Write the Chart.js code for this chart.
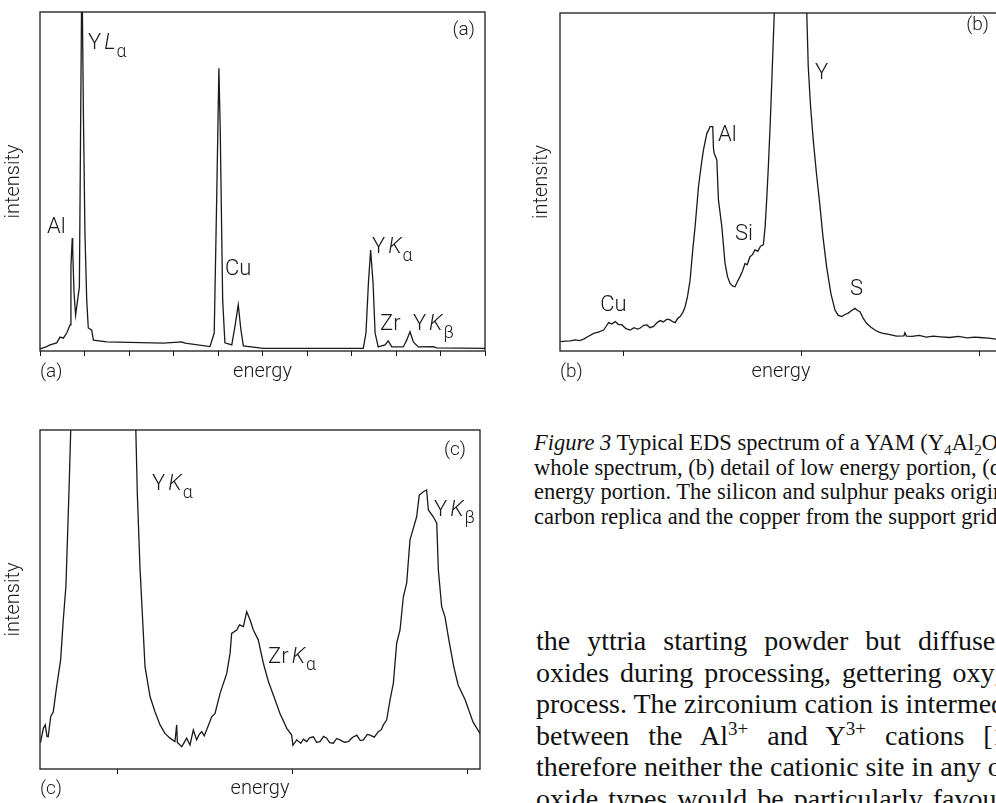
<!DOCTYPE html>
<html>
<head>
<meta charset="utf-8">
<script src="https://cdn.jsdelivr.net/npm/chart.js@4.4.1/dist/chart.umd.min.js"></script>
<style>
html, body { margin: 0; padding: 0; background: #fff; }
body { width: 996px; height: 803px; overflow: hidden; position: relative; }
.panel { position: absolute; }
#wrapA { left: 0; top: 0; width: 490px; height: 392px; }
#wrapB { left: 520px; top: 0; width: 490px; height: 392px; }
#wrapC { left: 0; top: 418px; width: 486px; height: 385px; }
.caption, .body-text {
    position: absolute; white-space: nowrap; color: #111;
    font-family: "Liberation Serif", "Times New Roman", serif;
}
.caption { left: 534px; top: 431px; font-size: 22.5px; line-height: 24.5px; }
.body-text { left: 536px; top: 625px; font-size: 28px; line-height: 31.5px; }
sub, sup { font-size: 0.68em; line-height: 0; position: relative; vertical-align: baseline; }
sub { top: 0.3em; }
sup { top: -0.5em; }
</style>
</head>
<body>
<div class="panel" id="wrapA"><canvas id="chartA"></canvas></div>
<div class="panel" id="wrapB"><canvas id="chartB"></canvas></div>
<div class="panel" id="wrapC"><canvas id="chartC"></canvas></div>

<div class="caption">
<div><i>Figure 3</i> Typical EDS spectrum of a YAM (Y<sub>4</sub>Al<sub>2</sub>O<sub>9</sub>) ceramic: (a)</div>
<div>whole spectrum, (b) detail of low energy portion, (c) detail of high</div>
<div>energy portion. The silicon and sulphur peaks originate from the</div>
<div>carbon replica and the copper from the support grid.</div>
</div>

<div class="body-text">
<div style="word-spacing:10px">the yttria starting powder but diffused into the</div>
<div style="word-spacing:4px">oxides during processing, gettering oxygen in the</div>
<div>process. The zirconium cation is intermediate in size</div>
<div style="word-spacing:12px">between the Al<sup>3+</sup> and Y<sup>3+</sup> cations [17] and</div>
<div>therefore neither the cationic site in any of the</div>
<div style="word-spacing:3px">oxide types would be particularly favoured.</div>
</div>

<script>
// (a) whole spectrum, energy in keV
const aEnergy = [0.00, 0.30, 0.45, 0.75, 0.90, 1.05, 1.20, 1.35, 1.39, 1.45, 1.47, 1.53, 1.60, 1.69, 1.77, 1.83, 1.87, 1.90, 1.95, 2.02, 2.10, 2.17, 2.32, 2.40, 3.00, 5.54, 6.37, 6.52, 7.64, 7.83, 7.94, 8.04, 8.10, 8.21, 8.31, 8.62, 8.76, 8.91, 9.03, 9.14, 10.04, 14.53, 14.65, 14.76, 14.86, 14.97, 15.06, 15.20, 15.51, 15.65, 15.81, 16.33, 16.48, 16.63, 16.78, 17.00, 17.68, 17.83, 20.00];
const aCounts = [0.6, 1.3, 1.8, 2.4, 4.1, 3.8, 5.3, 7.7, 24.9, 33.3, 29.8, 17.1, 10.6, 15.0, 18.9, 70.2, 104, 104, 70.5, 34.8, 15.0, 6.8, 6.2, 3.2, 2.7, 2.3, 2.7, 2.3, 1.3, 5.3, 44.5, 83.4, 65.2, 15.0, 2.4, 1.8, 7.2, 13.6, 6.2, 1.5, 0.8, 0.8, 5.3, 20.0, 29.8, 20.0, 5.3, 1.2, 1.8, 3.0, 1.2, 1.2, 3.2, 5.7, 2.7, 1.2, 1.3, 0.9, 0.8];
const aTicks = [0, 2, 4, 6, 8, 10, 12, 14, 16, 18, 20];

// (b) low energy portion
const bEnergy = [0.647, 0.675, 0.703, 0.730, 0.755, 0.778, 0.800, 0.834, 0.860, 0.890, 0.905, 0.918, 0.935, 0.955, 0.972, 0.993, 1.015, 1.039, 1.060, 1.080, 1.095, 1.115, 1.133, 1.150, 1.170, 1.190, 1.207, 1.225, 1.245, 1.263, 1.280, 1.291, 1.305, 1.319, 1.335, 1.347, 1.360, 1.375, 1.390, 1.403, 1.422, 1.440, 1.450, 1.469, 1.480, 1.487, 1.502, 1.506, 1.510, 1.518, 1.525, 1.534, 1.553, 1.571, 1.585, 1.599, 1.615, 1.627, 1.640, 1.655, 1.668, 1.683, 1.695, 1.711, 1.725, 1.739, 1.755, 1.770, 1.786, 1.796, 1.805, 1.814, 1.825, 1.833, 1.848, 1.940, 2.029, 2.038, 2.050, 2.066, 2.085, 2.104, 2.120, 2.141, 2.165, 2.188, 2.205, 2.225, 2.245, 2.262, 2.280, 2.300, 2.315, 2.328, 2.345, 2.365, 2.390, 2.412, 2.435, 2.458, 2.490, 2.533, 2.575, 2.580, 2.589, 2.620, 2.660, 2.700, 2.738, 2.780, 2.832, 2.880, 2.930, 2.970, 3.000, 3.050, 3.090, 3.125];
const bCounts = [2.8, 2.9, 3.0, 3.3, 3.1, 3.5, 4.2, 5.2, 5.6, 6.2, 7.4, 8.4, 8.0, 8.7, 7.9, 7.7, 6.6, 6.2, 6.9, 6.5, 6.8, 7.6, 7.7, 6.9, 7.3, 8.4, 9.0, 8.6, 9.4, 9.2, 8.6, 8.4, 9.6, 10.2, 11.5, 13.1, 16.0, 21.0, 30.0, 36.8, 48.6, 56.0, 59.5, 64.4, 65.5, 66.4, 66.4, 60.0, 58.5, 57.5, 56.5, 44.7, 36.8, 25.9, 22.0, 20.0, 19.2, 19.0, 20.5, 22.0, 23.5, 25.9, 25.5, 27.9, 28.5, 29.9, 29.5, 31.0, 31.4, 36.8, 45.0, 54.5, 68.0, 79.2, 101, 130, 101, 84.1, 73.0, 62.4, 52.0, 42.7, 34.0, 24.9, 17.0, 12.1, 10.6, 10.2, 10.8, 11.2, 11.9, 12.6, 12.0, 11.6, 9.8, 8.2, 7.0, 6.2, 5.6, 5.2, 4.9, 4.4, 4.5, 5.4, 4.4, 4.3, 4.6, 4.1, 4.4, 4.2, 4.0, 4.3, 3.9, 4.1, 4.0, 3.8, 3.5, 3.6];
const bTicks = [1, 2, 3];

// (c) high energy portion
const cEnergy = [14.560, 14.564, 14.579, 14.590, 14.600, 14.607, 14.621, 14.636, 14.655, 14.678, 14.693, 14.708, 14.718, 14.727, 14.741, 14.920, 15.103, 15.116, 15.131, 15.160, 15.189, 15.217, 15.246, 15.274, 15.303, 15.331, 15.341, 15.345, 15.350, 15.370, 15.398, 15.417, 15.436, 15.455, 15.470, 15.484, 15.498, 15.512, 15.541, 15.560, 15.589, 15.627, 15.646, 15.655, 15.684, 15.700, 15.722, 15.741, 15.760, 15.779, 15.807, 15.836, 15.865, 15.903, 15.931, 15.970, 15.998, 16.005, 16.027, 16.050, 16.065, 16.084, 16.100, 16.122, 16.140, 16.160, 16.180, 16.198, 16.215, 16.236, 16.255, 16.274, 16.300, 16.322, 16.345, 16.370, 16.390, 16.408, 16.430, 16.446, 16.470, 16.493, 16.510, 16.522, 16.541, 16.560, 16.579, 16.598, 16.617, 16.636, 16.655, 16.674, 16.693, 16.712, 16.727, 16.750, 16.769, 16.779, 16.807, 16.827, 16.836, 16.855, 16.874, 16.893, 16.903, 16.925, 16.949, 16.989, 17.034, 17.074];
const cCounts = [8.0, 8.1, 12.0, 13.0, 9.6, 9.5, 15.4, 16.9, 24.3, 32.2, 44.0, 53.9, 69.6, 84.3, 110, 200, 110, 81.3, 59.7, 30.2, 21.3, 16.9, 13.0, 10.5, 9.1, 8.1, 13.0, 7.8, 7.6, 6.6, 9.1, 7.1, 11.5, 8.6, 10.2, 11.0, 9.8, 11.5, 15.4, 16.4, 22.3, 28.2, 34.1, 40.0, 41.0, 42.5, 42.0, 46.4, 44.0, 41.0, 38.1, 31.2, 25.8, 20.4, 16.4, 12.0, 10.0, 7.0, 8.6, 7.6, 8.8, 8.1, 9.2, 9.5, 7.9, 8.1, 9.6, 9.1, 7.8, 7.6, 9.0, 8.6, 7.9, 8.1, 9.3, 10.0, 8.4, 8.6, 10.2, 10.0, 9.4, 11.0, 11.6, 13.0, 14.5, 20.4, 25.3, 37.1, 41.0, 50.8, 54.8, 67.6, 71.0, 74.4, 80.8, 81.8, 82.3, 76.4, 74.4, 72.5, 58.7, 47.9, 44.9, 39.0, 36.1, 30.0, 24.8, 20.4, 13.9, 10.5];
const cTicks = [15, 16, 17];

// peak names
const aPeaks = ['YLα', 'Al', 'Cu', 'YKα', 'Zr', 'YKβ'];
const bPeaks = ['Cu', 'Al', 'Si', 'Y', 'S'];
const cPeaks = ['YKα', 'ZrKα', 'YKβ'];

const ink = '#1a1a1a';
const plotFont = 'Roboto';
Chart.defaults.font.family = plotFont;
Chart.defaults.color = ink;

// K/L italic, greek letters as subscript
function drawTag(ctx, x, y, name, size) {
    let cx = x;
    for (const ch of name) {
        const sub = /[α-ω]/.test(ch);
        const ital = ch === 'K' || ch === 'L';
        const s = sub ? size * 0.8 : size;
        ctx.font = (ital ? 'italic ' : '') + '300 ' + s + 'px ' + plotFont;
        if (ital) cx += 3;
        ctx.fillText(ch, cx, y + (sub ? size * 0.38 : 0));
        cx += ctx.measureText(ch).width + (ital ? 1 : 0);
    }
}

const framePlugin = {
    id: 'frame',
    afterDatasetsDraw(chart) {
        const a = chart.chartArea;
        const ctx = chart.ctx;
        ctx.save();
        ctx.strokeStyle = ink;
        ctx.lineWidth = 1.3;
        ctx.strokeRect(a.left, a.top, a.right - a.left, a.bottom - a.top);
        ctx.restore();
    },
    afterDraw(chart, args, opts) {
        const ctx = chart.ctx;
        const xs = chart.scales.x, ys = chart.scales.y;
        ctx.save();
        ctx.fillStyle = ink;
        ctx.textBaseline = 'middle';
        ctx.textAlign = 'left';
        (opts.tags || []).forEach((t, i) => {
            drawTag(ctx, xs.getPixelForValue(t[0]), ys.getPixelForValue(t[1]), opts.names[i], 22);
        });
        ctx.font = '300 19px ' + plotFont;
        ctx.fillText(opts.corner, opts.cornerPos[0], opts.cornerPos[1]);
        ctx.textAlign = 'right';
        ctx.fillText(opts.corner, chart.chartArea.right - opts.cornerInset[0], chart.chartArea.top + opts.cornerInset[1]);
        ctx.restore();
    }
};

function buildChart(id, xs, ys, cfg) {
    const points = xs.map((x, i) => ({ x: x, y: ys[i] }));
    return new Chart(document.getElementById(id), {
        type: 'line',
        data: {
            datasets: [{
                data: points,
                borderColor: ink,
                borderWidth: 1.3,
                pointRadius: 0,
                tension: 0,
                fill: false
            }]
        },
        options: {
            responsive: true,
            maintainAspectRatio: false,
            animation: false,
            events: [],
            layout: { padding: { top: cfg.padTop, right: cfg.padRight, left: 0, bottom: 0 } },
            plugins: {
                legend: { display: false },
                tooltip: { enabled: false },
                frame: {
                    tags: cfg.tags,
                    names: cfg.names,
                    corner: cfg.corner,
                    cornerPos: cfg.cornerPos,
                    cornerInset: cfg.cornerInset
                }
            },
            scales: {
                x: {
                    type: 'linear',
                    min: cfg.min,
                    max: cfg.max,
                    afterFit: s => { s.height = cfg.xHeight; },
                    afterBuildTicks: s => { s.ticks = cfg.ticks.map(v => ({ value: v })); },
                    ticks: { display: false },
                    grid: { drawOnChartArea: false, drawTicks: true, tickLength: 5, color: ink, lineWidth: 1 },
                    border: { display: false },
                    title: {
                        display: true,
                        text: 'energy',
                        font: { size: 20, weight: '300' },
                        padding: { top: 0, bottom: cfg.xTitlePad }
                    }
                },
                y: {
                    min: 0,
                    max: 100,
                    afterFit: s => { s.width = 40; },
                    ticks: { display: false },
                    grid: { display: false },
                    border: { display: false },
                    title: {
                        display: true,
                        text: 'intensity',
                        font: { size: 20, weight: '300' },
                        padding: { top: cfg.yTitlePad, bottom: 0 }
                    }
                }
            }
        },
        plugins: [framePlugin]
    });
}

buildChart('chartA', aEnergy, aCounts, {
    min: 0, max: 20, ticks: aTicks,
    padTop: 12, padRight: 5, xHeight: 41, xTitlePad: 8, yTitlePad: 2,
    names: aPeaks,
    tags: [[2.16, 90.6], [0.31, 36.3], [8.31, 23.9], [14.92, 30.4], [15.28, 7.7], [16.76, 7.7]],
    corner: '(a)', cornerPos: [40, 372], cornerInset: [10, 18]
});

buildChart('chartB', bEnergy, bCounts, {
    min: 0.645, max: 3.125, ticks: bTicks,
    padTop: 13, padRight: 8, xHeight: 41, xTitlePad: 8, yTitlePad: 10,
    names: bPeaks,
    tags: [[0.871, 13.6], [1.532, 63.9], [1.627, 34.6], [2.076, 82.2], [2.272, 18.3]],
    corner: '(b)', cornerPos: [40, 372], cornerInset: [13, 12]
});

buildChart('chartC', cEnergy, cCounts, {
    min: 14.56, max: 17.074, ticks: cTicks,
    padTop: 12, padRight: 6, xHeight: 34, xTitlePad: 2, yTitlePad: 2,
    names: cPeaks,
    tags: [[15.2, 83.8], [15.863, 33.0], [16.811, 76.4]],
    corner: '(c)', cornerPos: [40, 371], cornerInset: [14, 20]
});
</script>
</body>
</html>
